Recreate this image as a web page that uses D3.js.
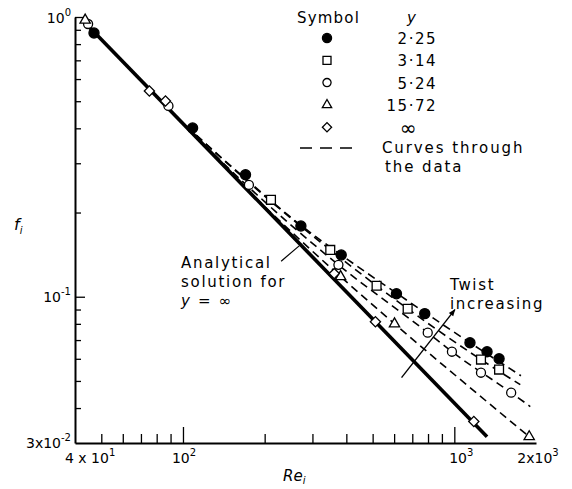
<!DOCTYPE html>
<html>
<head>
<meta charset="utf-8">
<script src="https://d3js.org/d3.v7.min.js"></script>
<style>
  body { margin: 0; background: #fff; }
  text { font-family: "DejaVu Sans", sans-serif; fill: #000; }
</style>
</head>
<body>
<script>

// ---- data ----
var twistValues = ["2·25", "3·14", "5·24", "15·72", "∞"];
var symbolNames = ["dot", "square", "circle", "triangle", "diamond"];

// measured points, Re_i and f_i per twist ratio y
var re225 = [47, 108.5, 170, 272, 383, 612, 778, 1142, 1320, 1462];
var f225  = [0.877, 0.401, 0.273, 0.179, 0.141, 0.1025, 0.087, 0.0685, 0.0636, 0.060];
var re314 = [211, 349, 517, 673, 1254, 1462];
var f314  = [0.222, 0.147, 0.1095, 0.0906, 0.0596, 0.0549];
var re524 = [44.7, 88.4, 175, 374, 798, 980, 1254, 1620];
var f524  = [0.944, 0.481, 0.251, 0.130, 0.0744, 0.0636, 0.0535, 0.0454];
var re1572 = [43.6, 381, 602, 1888];
var f1572  = [0.975, 0.118, 0.080, 0.0316];
var reInf = [75.2, 86.2, 361, 512, 1180];
var fInf  = [0.544, 0.501, 0.121, 0.0814, 0.0358];

// dashed curves through the data
var c225Re = [95, 170, 272, 383, 612, 1142, 1760];
var c225F  = [0.437, 0.264, 0.180, 0.141, 0.103, 0.0685, 0.0522];
var c314Re = [95, 211, 349, 517, 673, 1254, 1750];
var c314F  = [0.437, 0.219, 0.147, 0.1095, 0.0906, 0.0596, 0.0485];
var c524Re = [95, 175, 374, 798, 980, 1620, 1905];
var c524F  = [0.437, 0.246, 0.130, 0.0744, 0.0636, 0.0454, 0.0405];
var c1572Re = [100, 200, 381, 602, 1200, 1888];
var c1572F  = [0.415, 0.210, 0.118, 0.080, 0.0455, 0.0316];

// analytical solution for y = infinity (straight line on log-log)
var anRe = [45.5, 1320];
var anF  = [0.913, 0.0316];

// axis ticks
var xMinor = [50, 60, 70, 80, 90, 200, 300, 400, 500, 600, 700, 800, 900];
var xMajor = [100, 1000];
var yMinor = [0.04, 0.05, 0.06, 0.07, 0.08, 0.09, 0.2, 0.3, 0.4, 0.5, 0.6, 0.7, 0.8, 0.9];
var yMajor = [0.1, 1];
var xLabelVals = [40, 100, 1000, 2000];
var xLabelBase = ["4 x 10", "10", "10", "2x10"];
var xLabelSup  = ["1", "2", "3", "3"];
var yLabelVals = [1, 0.1, 0.03];
var yLabelBase = ["10", "10", "3x10"];
var yLabelSup  = ["0", "-1", "-2"];

// annotation anchors (data units)
var leaderRe = [230, 268], leaderF = [0.134, 0.152];
var arrowRe = [639, 1005], arrowF = [0.0514, 0.0899];

// ---- drawing ----
var w = 572, h = 489;
var svg = d3.select("body").append("svg")
  .attr("width", w)
  .attr("height", h);

var x = d3.scaleLog().domain([40, 2000]).range([75, 536]);
var y = d3.scaleLog().domain([0.03, 1]).range([443, 17]);

function zip(a, b) { return a.map(function(v, i){ return [v, b[i]]; }); }

// axes
var gx = svg.append("g").attr("transform", "translate(0," + y(0.03) + ")")
  .call(d3.axisBottom(x).tickValues(xMinor).tickSizeInner(-9).tickSizeOuter(0).tickFormat(""));
var gx2 = svg.append("g").attr("transform", "translate(0," + y(0.03) + ")")
  .call(d3.axisBottom(x).tickValues(xMajor).tickSizeInner(-16).tickSizeOuter(0).tickFormat(""));
gx2.select(".domain").remove();

var gy = svg.append("g").attr("transform", "translate(" + x(40) + ",0)")
  .call(d3.axisLeft(y).tickValues(yMinor).tickSizeInner(-6).tickSizeOuter(0).tickFormat(""));
var gy2 = svg.append("g").attr("transform", "translate(" + x(40) + ",0)")
  .call(d3.axisLeft(y).tickValues(yMajor).tickSizeInner(-10).tickSizeOuter(0).tickFormat(""));
gy2.select(".domain").remove();

svg.selectAll(".domain").attr("stroke", "#000").attr("stroke-width", 2);
svg.selectAll(".tick line").attr("stroke", "#000").attr("stroke-width", 1.3);

function supText(px, py, anchor, base, sup) {
  var t = svg.append("text").attr("x", px).attr("y", py)
    .attr("text-anchor", anchor).style("font-size", "14px");
  t.append("tspan").text(base);
  t.append("tspan").attr("dy", -7).style("font-size", "10px").text(sup);
  return t;
}

var xNudge = [-10, 1, 7, 2];
xLabelVals.forEach(function(v, i){
  supText(x(v) + xNudge[i], 463, i == 0 ? "start" : "middle", xLabelBase[i], xLabelSup[i]);
});
yLabelVals.forEach(function(v, i){
  supText(71, y(v) + (i == 0 ? 6 : 5), "end", yLabelBase[i], yLabelSup[i]);
});

// axis titles
var xt = svg.append("text").attr("x", 283).attr("y", 481).style("font-size", "15px");
xt.append("tspan").style("font-style", "italic").text("Re");
xt.append("tspan").attr("dy", 3).style("font-size", "10px").style("font-style", "italic").text("i");
var yt = svg.append("text").attr("x", 14).attr("y", 230).style("font-size", "16px");
yt.append("tspan").style("font-style", "italic").text("f");
yt.append("tspan").attr("dy", 4).style("font-size", "10px").style("font-style", "italic").text("i");

// curves
var line = d3.line()
  .x(function(d){ return x(d[0]); })
  .y(function(d){ return y(d[1]); })
  .curve(d3.curveMonotoneX);

var curves = [zip(c225Re, c225F), zip(c314Re, c314F), zip(c524Re, c524F), zip(c1572Re, c1572F)];
svg.selectAll(".curve").data(curves).enter().append("path")
  .attr("class", "curve")
  .attr("d", line)
  .attr("fill", "none")
  .attr("stroke", "#000")
  .attr("stroke-width", 1.6)
  .attr("stroke-dasharray", "8,5");

svg.append("path")
  .attr("d", d3.line().x(function(d){ return x(d[0]); }).y(function(d){ return y(d[1]); })(zip(anRe, anF)))
  .attr("fill", "none")
  .attr("stroke", "#000")
  .attr("stroke-width", 3.6);

// markers
function symPath(name, big) {
  var s = big ? 1 : 0.82;
  if (name == "dot") return d3.symbol(d3.symbolCircle, 80 * s)();
  if (name == "square") return d3.symbol(d3.symbolSquare, 78 * s)();
  if (name == "circle") return d3.symbol(d3.symbolCircle, 64 * s)();
  if (name == "triangle") return d3.symbol(d3.symbolTriangle, 46 * s)();
  return d3.symbol(d3.symbolSquare, 52 * s)();
}
function drawSym(g, name, px, py, big) {
  g.append("path")
    .attr("d", symPath(name, big))
    .attr("transform", "translate(" + px + "," + py + ")" + (name == "diamond" ? " rotate(45)" : ""))
    .attr("fill", name == "dot" ? "#000" : "#fff")
    .attr("stroke", "#000")
    .attr("stroke-width", 1.3);
}

var seriesRe = [re225, re314, re524, re1572, reInf];
var seriesF  = [f225, f314, f524, f1572, fInf];
var gm = svg.append("g");
seriesRe.forEach(function(res, i){
  res.forEach(function(r, j){
    drawSym(gm, symbolNames[i], x(r), y(seriesF[i][j]), true);
  });
});

// legend
var lg = svg.append("g").style("font-size", "15px");
lg.append("text").attr("x", 297).attr("y", 23).attr("letter-spacing", 1.2).text("Symbol");
lg.append("text").attr("x", 407).attr("y", 23).style("font-style", "italic").text("y");
twistValues.forEach(function(v, i){
  var cy = 38 + i * 22.3;
  drawSym(lg, symbolNames[i], 327, cy, false);
  if (v == "∞") {
    lg.append("text").attr("x", 408).attr("y", cy + 8).attr("text-anchor", "middle")
      .style("font-size", "20px").text(v);
  } else {
    lg.append("text").attr("x", 437).attr("y", cy + 6).attr("text-anchor", "end")
      .attr("letter-spacing", 1.5).text(v);
  }
});
lg.append("line").attr("x1", 300).attr("x2", 352).attr("y1", 148).attr("y2", 148)
  .attr("stroke", "#000").attr("stroke-width", 1.6).attr("stroke-dasharray", "12,8");
lg.append("text").attr("x", 382).attr("y", 153).attr("letter-spacing", 1.9).text("Curves through");
lg.append("text").attr("x", 385).attr("y", 172).attr("letter-spacing", 1.9).text("the data");

// annotations
var an = svg.append("g").style("font-size", "15px").attr("letter-spacing", 1.7);
an.append("text").attr("x", 181).attr("y", 268).text("Analytical");
an.append("text").attr("x", 181).attr("y", 287).text("solution for");
var yinf = an.append("text").attr("x", 181).attr("y", 306);
yinf.append("tspan").style("font-style", "italic").text("y");
yinf.append("tspan").text(" = ∞");
svg.append("line")
  .attr("x1", x(leaderRe[0])).attr("y1", y(leaderF[0]))
  .attr("x2", x(leaderRe[1])).attr("y2", y(leaderF[1]))
  .attr("stroke", "#000").attr("stroke-width", 1.2);

an.append("text").attr("x", 450).attr("y", 290).text("Twist");
an.append("text").attr("x", 450).attr("y", 309).text("increasing");

svg.append("defs").append("marker")
  .attr("id", "arr").attr("viewBox", "0 0 10 10").attr("refX", 9).attr("refY", 5)
  .attr("markerWidth", 9).attr("markerHeight", 7).attr("markerUnits", "userSpaceOnUse")
  .attr("orient", "auto")
  .append("path").attr("d", "M0,1 L10,5 L0,9 Z").attr("fill", "#000");
svg.append("line")
  .attr("x1", x(arrowRe[0])).attr("y1", y(arrowF[0]))
  .attr("x2", x(arrowRe[1])).attr("y2", y(arrowF[1]))
  .attr("stroke", "#000").attr("stroke-width", 1.4)
  .attr("marker-end", "url(#arr)");

</script>
</body>
</html>
